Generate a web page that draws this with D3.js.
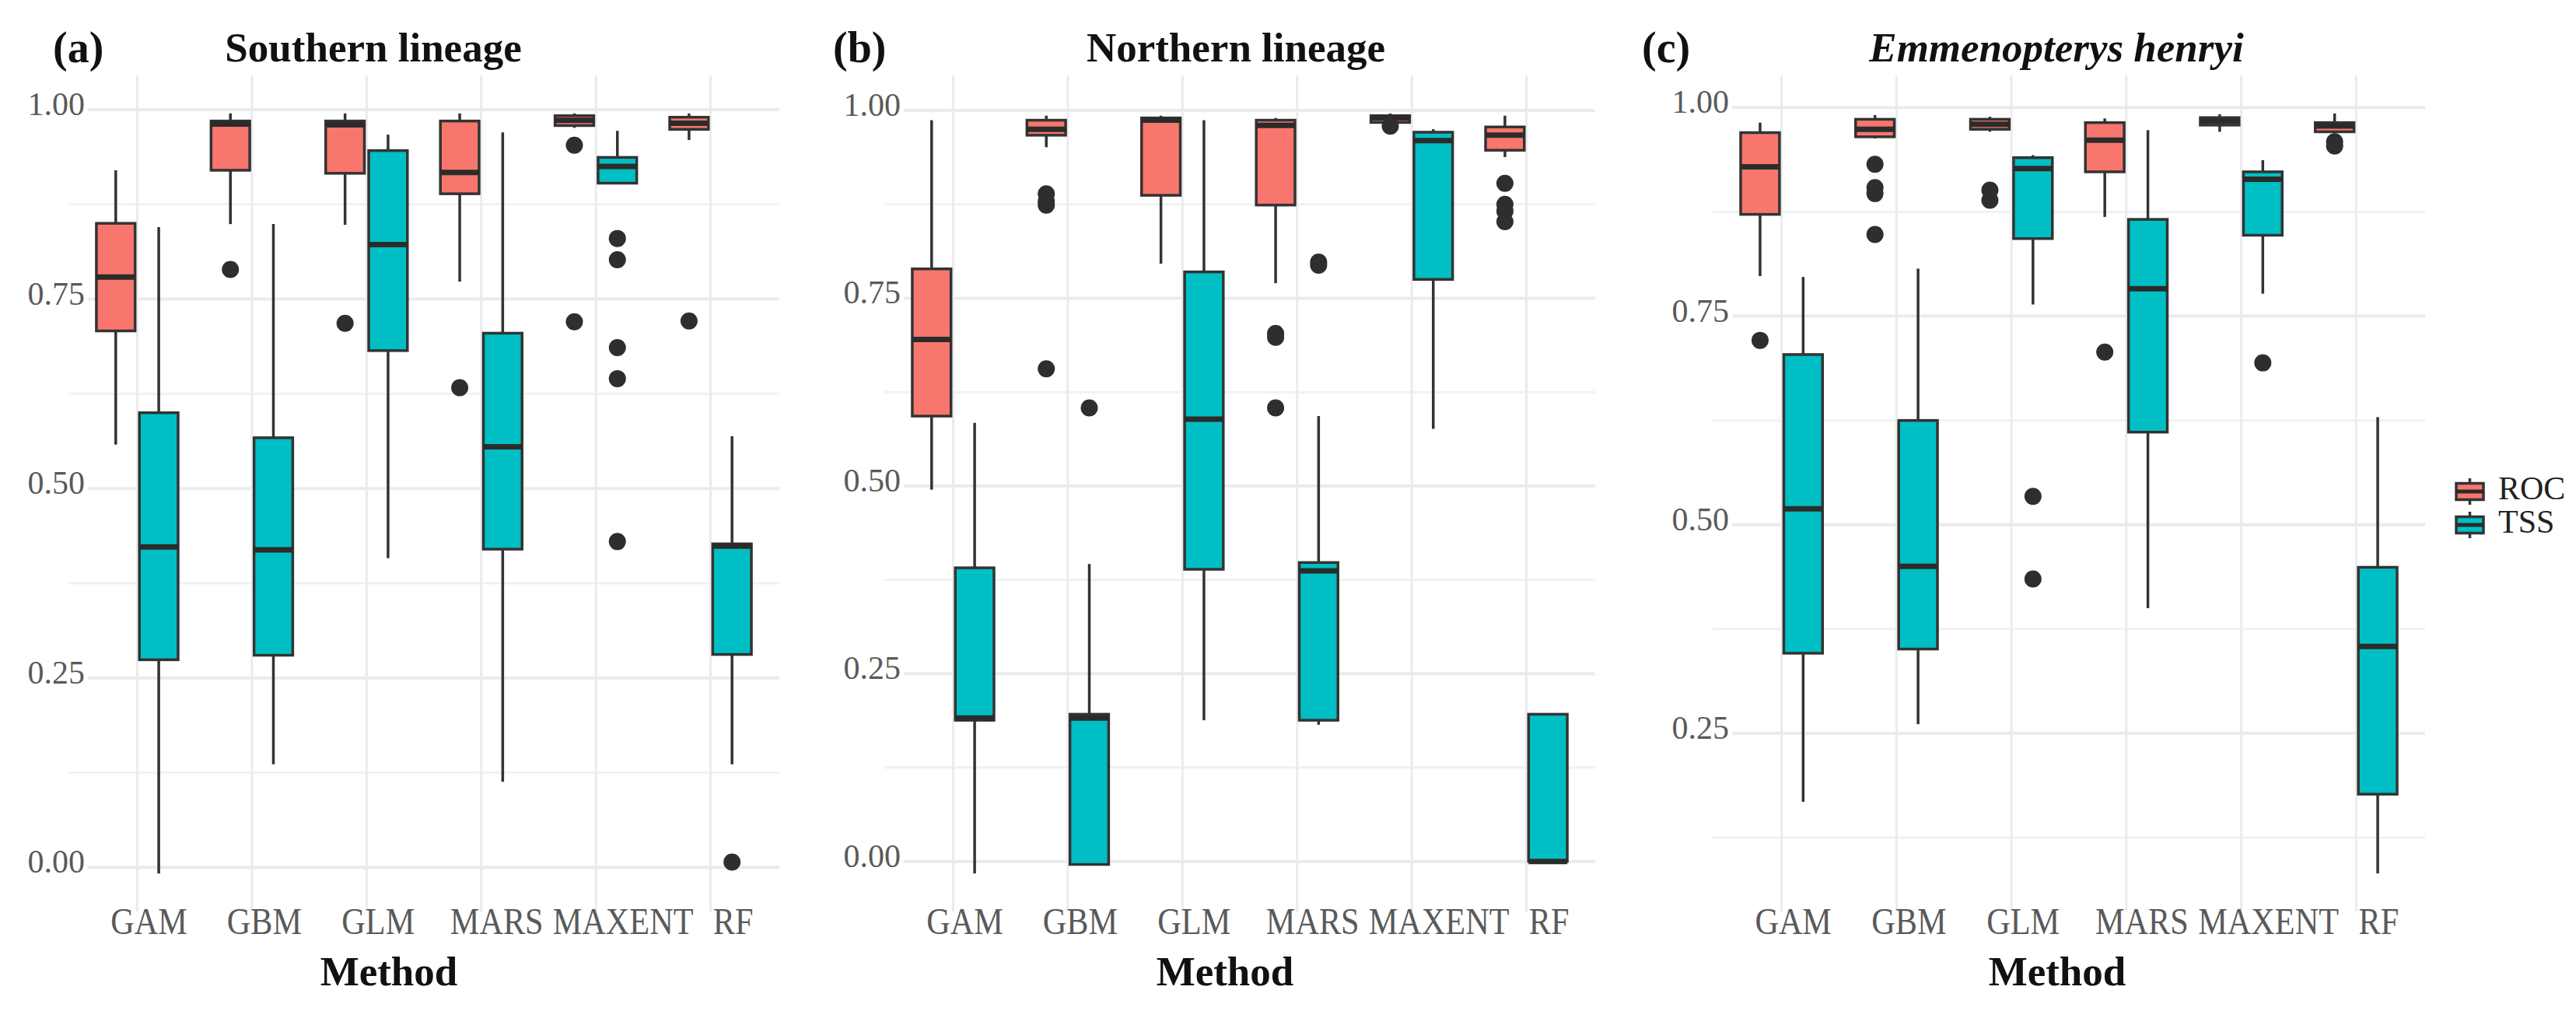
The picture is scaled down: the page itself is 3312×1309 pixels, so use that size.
<!DOCTYPE html>
<html>
<head>
<meta charset="utf-8">
<script src="https://cdn.jsdelivr.net/npm/d3@7"></script>
<style>
  html, body { margin: 0; padding: 0; background: #ffffff; }
  svg { display: block; }
</style>
</head>
<body>
<script>
// ---------------- DATA ----------------
const methods = ["GAM", "GBM", "GLM", "MARS", "MAXENT", "RF"];
const metrics = ["ROC", "TSS"];
const panelTags = ["(a)", "(b)", "(c)"];
const panelTitles = ["Southern lineage", "Northern lineage", "Emmenopterys henryi"];
const xAxisTitle = "Method";
const yTickLabels = [
  ["0.00", "0.25", "0.50", "0.75", "1.00"],
  ["0.00", "0.25", "0.50", "0.75", "1.00"],
  ["0.25", "0.50", "0.75", "1.00"]
];

// each entry: [lower whisker, Q1, median, Q3, upper whisker]
const southernROC = [
  [0.558, 0.708, 0.779, 0.850, 0.920],
  [0.849, 0.920, 0.981, 0.985, 0.995],
  [0.848, 0.916, 0.980, 0.985, 0.995],
  [0.773, 0.889, 0.917, 0.985, 0.995],
  [0.976, 0.979, 0.986, 0.992, 0.995],
  [0.960, 0.974, 0.982, 0.990, 0.995]
];
const southernROCOutliers = [[], [0.789], [0.718], [0.633], [0.953, 0.720], [0.721]];
const southernTSS = [
  [-0.008, 0.274, 0.423, 0.600, 0.845],
  [0.136, 0.280, 0.419, 0.567, 0.849],
  [0.408, 0.682, 0.822, 0.946, 0.967],
  [0.113, 0.420, 0.555, 0.705, 0.970],
  [0.903, 0.903, 0.925, 0.937, 0.972],
  [0.136, 0.281, 0.424, 0.427, 0.569]
];
const southernTSSOutliers = [[], [], [], [], [0.830, 0.802, 0.686, 0.645, 0.430], [0.007]];

const northernROC = [
  [0.495, 0.593, 0.695, 0.789, 0.987],
  [0.951, 0.967, 0.975, 0.987, 0.993],
  [0.796, 0.887, 0.987, 0.990, 0.993],
  [0.770, 0.874, 0.980, 0.987, 0.990],
  [0.982, 0.984, 0.990, 0.993, 0.996],
  [0.938, 0.947, 0.967, 0.978, 0.993]
];
const northernROCOutliers = [[], [0.889, 0.879, 0.874, 0.656], [], [0.703, 0.698, 0.604], [0.979], [0.903, 0.875, 0.866, 0.852]];
const northernTSS = [
  [-0.016, 0.188, 0.191, 0.391, 0.584],
  [-0.005, -0.004, 0.191, 0.196, 0.396],
  [0.188, 0.389, 0.589, 0.785, 0.987],
  [0.182, 0.188, 0.387, 0.398, 0.593],
  [0.576, 0.775, 0.960, 0.971, 0.975],
  [0.000, 0.000, 0.000, 0.196, 0.196]
];
const northernTSSOutliers = [[], [0.604], [], [0.798, 0.794], [], []];

const henryiROC = [
  [0.798, 0.872, 0.929, 0.970, 0.982],
  [0.963, 0.965, 0.974, 0.986, 0.991],
  [0.971, 0.974, 0.980, 0.986, 0.989],
  [0.869, 0.923, 0.961, 0.982, 0.987],
  [0.971, 0.979, 0.984, 0.988, 0.992],
  [0.969, 0.971, 0.978, 0.982, 0.993]
];
const henryiROCOutliers = [[0.721], [0.932, 0.904, 0.897, 0.848], [0.901, 0.889], [0.707], [], [0.959, 0.954]];
const henryiTSS = [
  [0.168, 0.346, 0.519, 0.704, 0.797],
  [0.261, 0.351, 0.450, 0.625, 0.807],
  [0.764, 0.843, 0.927, 0.940, 0.943],
  [0.400, 0.611, 0.783, 0.866, 0.973],
  [0.777, 0.847, 0.914, 0.923, 0.937],
  [0.082, 0.177, 0.354, 0.449, 0.629]
];
const henryiTSSOutliers = [[], [], [0.534, 0.435], [], [0.694], []];

// ---------------- STYLE / LAYOUT ----------------
const W = 3312, H = 1309;
const fillColors = ["#F8766D", "#00BFC4"];
const serif = "'Liberation Serif', 'Times New Roman', Times, serif";
const plotTop = 97, plotBottom = 1172;
const layout = [
  { x0: 88,   x1: 1002, tagX: 68,   titleX: 480,  axisTitleX: 500 },
  { x0: 1137, x1: 2051, tagX: 1071, titleX: 1589, axisTitleX: 1575 },
  { x0: 2202, x1: 3118, tagX: 2111, titleX: 2644, axisTitleX: 2645 }
];
const xLabelShift = [15, 16, 15, 20, 35, 29];

const panels = [
  { stats: [southernROC, southernTSS], outliers: [southernROCOutliers, southernTSSOutliers] },
  { stats: [northernROC, northernTSS], outliers: [northernROCOutliers, northernTSSOutliers] },
  { stats: [henryiROC, henryiTSS], outliers: [henryiROCOutliers, henryiTSSOutliers] }
];

const svg = d3.select("body").append("svg")
  .attr("width", W).attr("height", H)
  .attr("viewBox", `0 0 ${W} ${H}`);
svg.append("rect").attr("width", W).attr("height", H).attr("fill", "#ffffff");

panels.forEach((p, i) => {
  const L = layout[i];
  const g = svg.append("g");

  const allVals = [];
  p.stats.forEach(s => s.forEach(r => allVals.push(r[0], r[4])));
  p.outliers.forEach(o => o.forEach(arr => arr.forEach(v => allVals.push(v))));
  const [mn, mx] = d3.extent(allVals);
  const pad = (mx - mn) * 0.05;

  const y = d3.scaleLinear().domain([mn - pad, mx + pad]).range([plotBottom, plotTop]);
  const x = d3.scalePoint().domain(methods).range([L.x0, L.x1]).padding(0.6);
  const step = x.step();
  const dodge = 0.1875 * step;
  const boxW = 0.3375 * step;

  const majors = yTickLabels[i].map(Number);
  const minors = [];
  for (let k = 0; k < majors.length - 1; k++) minors.push((majors[k] + majors[k + 1]) / 2);
  const half = (majors[1] - majors[0]) / 2;
  if (majors[0] - half >= y.domain()[0]) minors.push(majors[0] - half);
  if (majors[majors.length - 1] + half <= y.domain()[1]) minors.push(majors[majors.length - 1] + half);

  // gridlines
  g.append("g").selectAll("line").data(minors).join("line")
    .attr("x1", L.x0).attr("x2", L.x1)
    .attr("y1", d => y(d)).attr("y2", d => y(d))
    .attr("stroke", "#f1f1f1").attr("stroke-width", 3);
  g.append("g").selectAll("line").data(majors).join("line")
    .attr("x1", L.x0).attr("x2", L.x1)
    .attr("y1", d => y(d)).attr("y2", d => y(d))
    .attr("stroke", "#ebebeb").attr("stroke-width", 4);
  g.append("g").selectAll("line").data(methods).join("line")
    .attr("x1", d => x(d)).attr("x2", d => x(d))
    .attr("y1", plotTop).attr("y2", plotBottom)
    .attr("stroke", "#ebebeb").attr("stroke-width", 3);

  // y tick labels (with white halo as in the reference)
  g.append("g").selectAll("text").data(yTickLabels[i]).join("text")
    .attr("x", L.x0 + 21).attr("y", d => y(+d) + 7)
    .attr("text-anchor", "end")
    .attr("font-family", serif).attr("font-size", 42)
    .attr("fill", "#5a5a5a")
    .attr("stroke", "#ffffff").attr("stroke-width", 12)
    .attr("paint-order", "stroke")
    .text(d => d);

  // boxplots
  metrics.forEach((m, j) => {
    const off = (j === 0 ? -1 : 1) * dodge;
    const bg = g.append("g");
    methods.forEach((meth, k) => {
      const s = p.stats[j][k];
      const cx = x(meth) + off;
      bg.append("line")
        .attr("x1", cx).attr("x2", cx)
        .attr("y1", y(s[3])).attr("y2", y(s[4]))
        .attr("stroke", "#333333").attr("stroke-width", 3.5);
      bg.append("line")
        .attr("x1", cx).attr("x2", cx)
        .attr("y1", y(s[1])).attr("y2", y(s[0]))
        .attr("stroke", "#333333").attr("stroke-width", 3.5);
      bg.append("rect")
        .attr("x", cx - boxW / 2).attr("width", boxW)
        .attr("y", y(s[3])).attr("height", Math.max(0.5, y(s[1]) - y(s[3])))
        .attr("fill", fillColors[j])
        .attr("stroke", "#333333").attr("stroke-width", 3.5);
      bg.append("line")
        .attr("x1", cx - boxW / 2).attr("x2", cx + boxW / 2)
        .attr("y1", y(s[2])).attr("y2", y(s[2]))
        .attr("stroke", "#2b2b2b").attr("stroke-width", 7);
      bg.selectAll(null).data(p.outliers[j][k]).join("circle")
        .attr("cx", cx).attr("cy", d => y(d)).attr("r", 11)
        .attr("fill", "#2e2e2e");
    });
  });

  // x tick labels
  g.append("g").selectAll("text").data(methods).join("text")
    .attr("transform", (d, k) => `translate(${x(d) + xLabelShift[k]},1201) scale(0.88,1)`)
    .attr("text-anchor", "middle")
    .attr("font-family", serif).attr("font-size", 48)
    .attr("fill", "#5a5a5a")
    .text(d => d);

  // axis title
  g.append("text")
    .attr("x", L.axisTitleX).attr("y", 1267)
    .attr("text-anchor", "middle")
    .attr("font-family", serif).attr("font-size", 53).attr("font-weight", "bold")
    .attr("fill", "#111111")
    .text(xAxisTitle);

  // tag and title
  g.append("text")
    .attr("x", L.tagX).attr("y", 80)
    .attr("font-family", serif).attr("font-size", 56).attr("font-weight", "bold")
    .attr("fill", "#111111")
    .text(panelTags[i]);
  g.append("text")
    .attr("x", L.titleX).attr("y", 79)
    .attr("text-anchor", "middle")
    .attr("font-family", serif).attr("font-size", 53).attr("font-weight", "bold")
    .attr("font-style", i === 2 ? "italic" : "normal")
    .attr("fill", "#111111")
    .text(panelTitles[i]);
});

// legend
const legend = svg.append("g");
const keyCentres = [632, 675];
const keyX = 3158, keyW = 35;
metrics.forEach((m, j) => {
  const cy = keyCentres[j];
  legend.append("line")
    .attr("x1", keyX + keyW / 2).attr("x2", keyX + keyW / 2)
    .attr("y1", cy - 17).attr("y2", cy + 17)
    .attr("stroke", "#333333").attr("stroke-width", 3.5);
  legend.append("rect")
    .attr("x", keyX).attr("y", cy - 10.5).attr("width", keyW).attr("height", 21)
    .attr("fill", fillColors[j]).attr("stroke", "#333333").attr("stroke-width", 3.5);
  legend.append("line")
    .attr("x1", keyX).attr("x2", keyX + keyW)
    .attr("y1", cy).attr("y2", cy)
    .attr("stroke", "#2b2b2b").attr("stroke-width", 5);
  legend.append("text")
    .attr("x", 3212).attr("y", cy + 10)
    .attr("font-family", serif).attr("font-size", 42)
    .attr("fill", "#222222")
    .text(m);
});
</script>
</body>
</html>
